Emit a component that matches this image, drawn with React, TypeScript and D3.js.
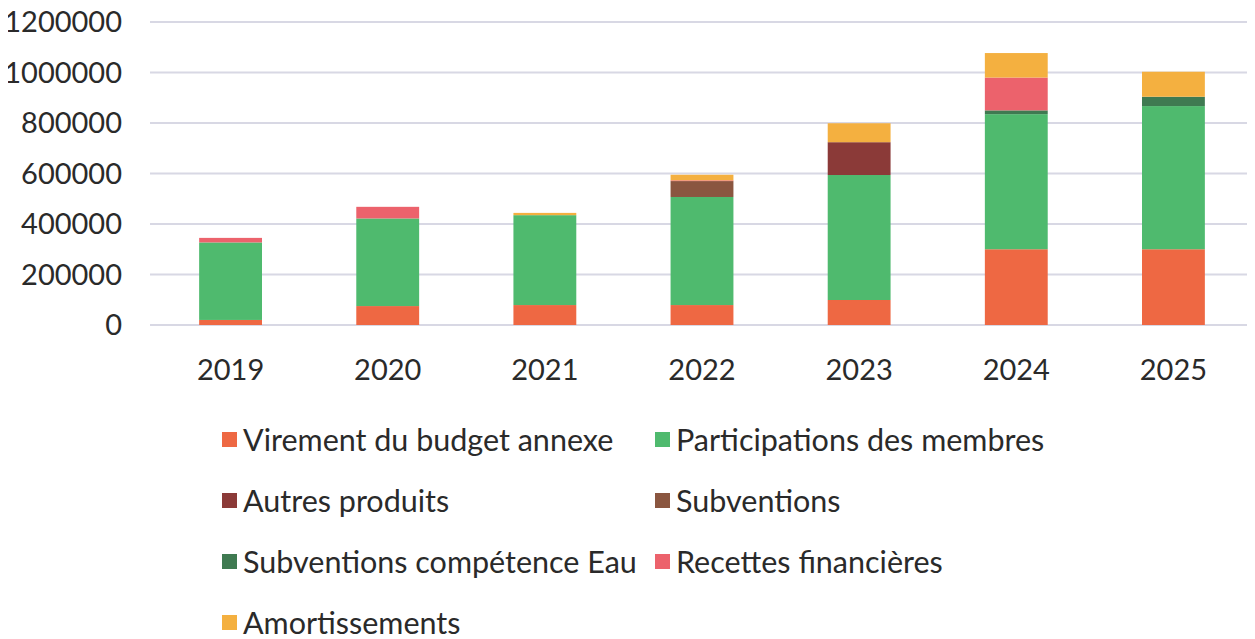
import React, { useEffect, useRef } from 'react';
import * as d3 from 'd3';

// years on the x axis
const years = ['2019', '2020', '2021', '2022', '2023', '2024', '2025'];

// one array per series, same order as the legend (stack bottom -> top)
const virement = [20000, 75000, 79000, 79000, 99000, 300000, 300000];
const participations = [307000, 347000, 356000, 428000, 495000, 535000, 567000];
const autresProduits = [0, 0, 0, 0, 130000, 0, 0];
const subventions = [0, 0, 0, 63000, 0, 0, 0];
const subventionsEau = [0, 0, 0, 0, 0, 15000, 37000];
const recettesFinancieres = [18000, 46000, 0, 3000, 0, 130000, 0];
const amortissements = [0, 0, 9000, 22000, 75000, 97000, 99000];

const seriesNames = [
  'Virement du budget annexe',
  'Participations des membres',
  'Autres produits',
  'Subventions',
  'Subventions compétence Eau',
  'Recettes financières',
  'Amortissements',
];
const seriesValues = [virement, participations, autresProduits, subventions, subventionsEau, recettesFinancieres, amortissements];
const seriesColors = ['#ee6843', '#4fba6e', '#8b3a38', '#8a5640', '#3f7a51', '#ec626c', '#f4b040'];

const yTicks = [0, 200000, 400000, 600000, 800000, 1000000, 1200000];

const App = () => {
  const svgRef = useRef<SVGSVGElement>(null);

  useEffect(() => {
    const width = 1255;
    const height = 639;
    const font = 'Lato, "Open Sans", sans-serif';

    const svg = d3.select(svgRef.current);
    svg.selectAll('*').remove();
    svg.attr('width', width).attr('height', height);

    const x = d3.scaleBand()
      .domain(years)
      .range([152, 1252])
      .paddingInner(0.6)
      .paddingOuter(0.3);

    const y = d3.scaleLinear()
      .domain([0, 1200000])
      .range([325, 22]);

    // grid lines
    svg.append('g')
      .selectAll('line')
      .data(yTicks)
      .enter().append('line')
      .attr('x1', 150)
      .attr('x2', 1255)
      .attr('y1', d => y(d))
      .attr('y2', d => y(d))
      .attr('stroke', '#d8d8e4')
      .attr('stroke-width', 2);

    // y labels
    svg.append('g')
      .selectAll('text')
      .data(yTicks)
      .enter().append('text')
      .attr('x', 122)
      .attr('y', d => y(d))
      .attr('dy', '0.35em')
      .attr('text-anchor', 'end')
      .attr('font-family', font)
      .attr('font-size', 29)
      .attr('fill', '#2a2a2a')
      .text(d => String(d));

    // stacked bars
    const rows = years.map((yr, i) => {
      const row: any = { year: yr };
      seriesNames.forEach((n, s) => { row[n] = seriesValues[s][i]; });
      return row;
    });
    const stacked = d3.stack().keys(seriesNames)(rows);

    svg.append('g')
      .selectAll('g')
      .data(stacked)
      .enter().append('g')
      .attr('fill', (_, i) => seriesColors[i])
      .selectAll('rect')
      .data(d => d)
      .enter().append('rect')
      .attr('x', d => x(d.data.year as string)!)
      .attr('width', x.bandwidth())
      .attr('y', d => y(d[1]))
      .attr('height', d => y(d[0]) - y(d[1]));

    // x labels
    svg.append('g')
      .selectAll('text')
      .data(years)
      .enter().append('text')
      .attr('x', d => x(d)! + x.bandwidth() / 2)
      .attr('y', 380)
      .attr('text-anchor', 'middle')
      .attr('font-family', font)
      .attr('font-size', 29)
      .attr('fill', '#2a2a2a')
      .text(d => d);

    // legend, two columns
    const legend = svg.append('g')
      .selectAll('g')
      .data(seriesNames)
      .enter().append('g')
      .attr('transform', (_, i) => `translate(${i % 2 === 0 ? 222 : 655},${440 + Math.floor(i / 2) * 61})`);

    legend.append('rect')
      .attr('x', 0)
      .attr('y', -8)
      .attr('width', 15)
      .attr('height', 15)
      .attr('fill', (_, i) => seriesColors[i]);

    legend.append('text')
      .attr('x', 21)
      .attr('y', 0)
      .attr('dy', '0.35em')
      .attr('font-family', font)
      .attr('font-size', 30.5)
      .attr('fill', '#2a2a2a')
      .text(d => d);
  }, []);

  return (
    <div style={{ margin: -8 }}>
      <svg ref={svgRef}></svg>
    </div>
  );
};

export default App;
